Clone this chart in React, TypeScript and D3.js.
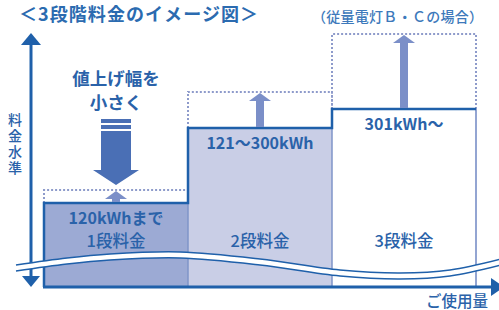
import React from "react";
import * as d3 from "d3";

// 3段階料金のイメージ（料金水準は相対値）
const tiers = ["1段料金", "2段料金", "3段料金"];
const ranges = ["120kWhまで", "121～300kWh", "301kWh～"];
const currentLevel = [33.2, 62.8, 70.4];
const previousLevel = [38.3, 77.1, 100];
const tierFills = ["#9caad4", "#c9cee6", "#ffffff"];

const W = 499;
const H = 310;
const FONT = "'Noto Sans CJK JP', 'Noto Sans', sans-serif";
const DARK = "#1f60aa";
const TEXT = "#2a62a9";
const ARROW = "#7b8fc8";
const DOT = "#8e9bcb";

function UpArrow({ cx, top, bottom }: { cx: number; top: number; bottom: number }) {
  const headH = 8;
  const headW = 11;
  const shaft = 4;
  const d = `M${cx},${top} L${cx + headW},${top + headH} L${cx + shaft},${top + headH} L${cx + shaft},${bottom} L${cx - shaft},${bottom} L${cx - shaft},${top + headH} L${cx - headW},${top + headH} Z`;
  return <path d={d} fill={ARROW} />;
}

function App() {
  const x = d3.scaleBand<string>().domain(tiers).range([44, 476]).padding(0);
  const y = d3.scaleLinear().domain([0, 100]).range([287, 34]);
  const bw = x.bandwidth();
  const base = y(0);

  // stepped outline along the tops of the bars
  const step = d3.path();
  step.moveTo(x(tiers[0])!, base);
  tiers.forEach((t, i) => {
    step.lineTo(x(t)!, y(currentLevel[i]));
    step.lineTo(x(t)! + bw, y(currentLevel[i]));
  });

  // wave (省略線)
  const wavePts: [number, number][] = [
    [16, 265], [67, 258], [110, 254], [180, 252], [260, 259],
    [340, 270], [400, 273], [450, 270], [505, 258],
  ];
  const gap = 6;
  const waveLine = d3.line<[number, number]>().curve(d3.curveCatmullRom.alpha(0.5));
  const waveArea = d3
    .area<[number, number]>()
    .x((d) => d[0])
    .y0((d) => d[1])
    .y1((d) => d[1] + gap)
    .curve(d3.curveCatmullRom.alpha(0.5));
  const lowerPts = wavePts.map((p) => [p[0], p[1] + gap] as [number, number]);

  const c0 = x(tiers[0])! + bw / 2;

  return (
    <svg width={W} height={H} style={{ position: "absolute", left: 0, top: 0, background: "#fff" }} fontFamily={FONT}>
      {/* title */}
      <text
        x={19}
        y={13}
        dominantBaseline="central"
        fontSize={18}
        fontWeight={700}
        fill="#2b6bb0"
        textLength={239}
        lengthAdjust="spacing"
      >
        ＜3段階料金のイメージ図＞
      </text>
      <text
        x={312}
        y={16}
        dominantBaseline="central"
        fontSize={14}
        fontWeight={500}
        fill="#3d79bb"
        textLength={171}
        lengthAdjust="spacing"
      >
        （従量電灯Ｂ・Ｃの場合）
      </text>

      {/* previous levels (dotted) */}
      {tiers.map((t, i) => {
        const x0 = x(t)!;
        const x1 = x0 + bw;
        const yc = y(currentLevel[i]);
        const yp = y(previousLevel[i]);
        return (
          <path
            key={"dot" + t}
            d={`M${x0},${yc} V${yp} H${x1} V${yc}`}
            fill="none"
            stroke={DOT}
            strokeWidth={2}
            strokeDasharray="2 2"
          />
        );
      })}

      {/* bars */}
      {tiers.map((t, i) => (
        <rect
          key={"bar" + t}
          x={x(t)}
          y={y(currentLevel[i])}
          width={bw}
          height={base - y(currentLevel[i])}
          fill={tierFills[i]}
        />
      ))}
      {tiers.slice(1).map((t, i) => (
        <line
          key={"div" + t}
          x1={x(t)}
          x2={x(t)}
          y1={y(currentLevel[i + 1])}
          y2={base}
          stroke="#7f95c9"
          strokeWidth={1.5}
        />
      ))}
      <line
        x1={x(tiers[2])! + bw}
        x2={x(tiers[2])! + bw}
        y1={y(currentLevel[2])}
        y2={base}
        stroke="#6f87c3"
        strokeWidth={1.5}
      />
      <path d={step.toString()} fill="none" stroke={DARK} strokeWidth={2.5} />

      {/* increase arrows */}
      {tiers.map((t, i) => (
        <UpArrow
          key={"up" + t}
          cx={x(t)! + bw / 2}
          top={y(previousLevel[i]) + 1}
          bottom={y(currentLevel[i]) - 1}
        />
      ))}

      {/* big down arrow */}
      <g fill="#4a6fb5">
        <rect x={c0 - 15} y={119} width={30} height={4} />
        <rect x={c0 - 15} y={125} width={30} height={4} />
        <path d={`M${c0 - 15},131 H${c0 + 15} V170 H${c0 + 23} L${c0},185 L${c0 - 23},170 H${c0 - 15} Z`} />
      </g>
      <text x={c0} y={77} textAnchor="middle" dominantBaseline="central" fontSize={17.5} fontWeight={700} fill={TEXT}>
        値上げ幅を
      </text>
      <text x={c0} y={101} textAnchor="middle" dominantBaseline="central" fontSize={17.5} fontWeight={700} fill={TEXT}>
        小さく
      </text>

      {/* labels */}
      {tiers.map((t, i) => (
        <text
          key={"rng" + t}
          x={x(t)! + bw / 2}
          y={y(currentLevel[i]) + 14}
          textAnchor="middle"
          dominantBaseline="central"
          fontSize={16}
          fontWeight={700}
          fill={TEXT}
        >
          {ranges[i]}
        </text>
      ))}
      {tiers.map((t) => (
        <text
          key={"lab" + t}
          x={x(t)! + bw / 2}
          y={240}
          textAnchor="middle"
          dominantBaseline="central"
          fontSize={16.5}
          fontWeight={500}
          fill={TEXT}
        >
          {t}
        </text>
      ))}

      {/* y axis */}
      <line x1={31} x2={31} y1={44} y2={277} stroke={DARK} strokeWidth={3} />
      <path d="M31,33 L41,45 L21,45 Z" fill={DARK} />
      <path d="M22,276 L40,276 L31,287 Z" fill={DARK} />
      <text
        x={15}
        y={113}
        fontSize={14}
        fontWeight={500}
        fill={TEXT}
        style={{ writingMode: "vertical-rl", letterSpacing: "2px" }}
      >
        料金水準
      </text>

      {/* wave break */}
      <path d={waveArea(wavePts) || ""} fill="#fff" />
      <path d={waveLine(wavePts) || ""} fill="none" stroke={DARK} strokeWidth={1.5} />
      <path d={waveLine(lowerPts) || ""} fill="none" stroke={DARK} strokeWidth={1.5} />

      {/* x axis */}
      <line x1={43} x2={493} y1={base} y2={base} stroke={DARK} strokeWidth={3} />
      <path d={`M491,${base - 9} L504,${base} L491,${base + 9} Z`} fill={DARK} />
      <text x={488} y={300} textAnchor="end" dominantBaseline="central" fontSize={15.5} fontWeight={500} fill={TEXT}>
        ご使用量
      </text>
    </svg>
  );
}

export default App;
